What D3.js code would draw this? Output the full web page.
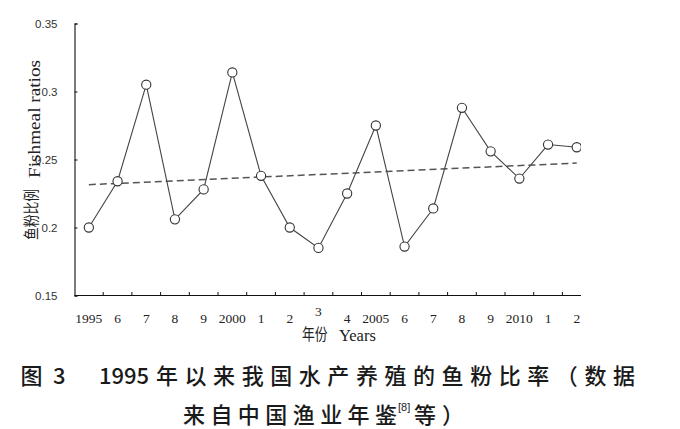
<!DOCTYPE html>
<html>
<head>
<meta charset="utf-8">
<script src="https://cdn.jsdelivr.net/npm/d3@7"></script>
<style>
  html, body { margin: 0; padding: 0; background: #fff; }
  svg { display: block; }
</style>
</head>
<body>
<svg id="chart" width="680" height="429"></svg>
<script>
// ---- data ----
const years = [1995, 1996, 1997, 1998, 1999, 2000, 2001, 2002, 2003, 2004, 2005, 2006, 2007, 2008, 2009, 2010, 2011, 2012];
const ratios = [0.200, 0.234, 0.305, 0.206, 0.228, 0.314, 0.238, 0.200, 0.185, 0.225, 0.275, 0.186, 0.214, 0.288, 0.256, 0.236, 0.261, 0.259];
const xTickLabels = ["1995", "6", "7", "8", "9", "2000", "1", "2", "3", "4", "2005", "6", "7", "8", "9", "2010", "1", "2"];
const yTicks = [0.15, 0.2, 0.25, 0.3, 0.35];
const yTickLabels = ["0.15", "0.2", "0.25", "0.3", "0.35"];
const yTitleZh = "鱼粉比例";
const yTitleEn = "Fishmeal ratios";
const xTitleZh = "年份";
const xTitleEn = "Years";
const captionLine1 = ["图", "3", "1995", "年以来我国水产养殖的鱼粉比率（数据"];
const captionLine2 = ["来自中国渔业年鉴", "[8]", "等）"];

// ---- layout ----
const svg = d3.select("#chart");
svg.append("rect").attr("width", 680).attr("height", 429).attr("fill", "#fff");

const plotLeft = 74.5, plotTop = 23.5, plotBottom = 295.5, bandW = 28.7, clipRight = 581;
const x = d3.scaleBand().domain(years).range([plotLeft, plotLeft + years.length * bandW]).padding(0);
const y = d3.scaleLinear().domain([0.15, 0.35]).range([plotBottom, plotTop]);
const cx = d => x(d) + x.bandwidth() / 2;

svg.append("clipPath").attr("id", "plotclip")
  .append("rect").attr("x", 0).attr("y", 0).attr("width", clipRight).attr("height", 429);

const data = years.map((yr, i) => ({ year: yr, v: ratios[i], label: xTickLabels[i] }));

// ---- y axis ----
const yAxis = d3.axisLeft(y).tickValues(yTicks).tickSize(-3).tickPadding(17)
  .tickFormat((d, i) => yTickLabels[i]);
const gy = svg.append("g").attr("transform", `translate(${plotLeft},0)`).call(yAxis);
gy.select(".domain").attr("stroke", "#111").attr("stroke-width", 1.1);
gy.selectAll(".tick line").attr("stroke", "#111");
gy.selectAll(".tick text").attr("font-family", "Liberation Sans, Arial, sans-serif")
  .attr("font-size", 11.5).attr("fill", "#333");

// ---- x axis ----
const gx = svg.append("g").attr("clip-path", "url(#plotclip)");
gx.append("line").attr("x1", plotLeft).attr("x2", clipRight).attr("y1", plotBottom).attr("y2", plotBottom)
  .attr("stroke", "#111").attr("stroke-width", 1.1);
gx.selectAll("line.tk").data(years.slice(1)).join("line").attr("class", "tk")
  .attr("x1", d => x(d)).attr("x2", d => x(d)).attr("y1", plotBottom).attr("y2", plotBottom - 3.5)
  .attr("stroke", "#111");

const xAxis = d3.axisBottom(x).tickSize(0).tickPadding(18).tickFormat((d, i) => xTickLabels[i]);
const gxl = svg.append("g").attr("transform", `translate(0,${plotBottom})`).call(xAxis);
gxl.select(".domain").remove();
gxl.selectAll(".tick text").attr("font-family", "Liberation Serif, Times New Roman, serif")
  .attr("font-size", 13.5).attr("fill", "#222")
  .attr("y", (d) => d === 2003 ? 11 : 18);

// axis titles
svg.append("text").attr("transform", "translate(302,340) scale(0.8,1)")
  .attr("font-family", "Noto Sans CJK SC").attr("font-size", 16).attr("fill", "#222").text(xTitleZh);
svg.append("text").attr("x", 339).attr("y", 341)
  .attr("font-family", "Liberation Serif, serif").attr("font-size", 16.5).attr("fill", "#222").text(xTitleEn);

svg.append("text").attr("transform", "translate(36.5,240) rotate(-90) scale(0.8,1)")
  .attr("font-family", "Noto Sans CJK SC").attr("font-size", 16).attr("fill", "#222").text(yTitleZh);
svg.append("text").attr("transform", "translate(40,178) rotate(-90)")
  .attr("font-family", "Liberation Serif, serif").attr("font-size", 16.5).attr("fill", "#222")
  .attr("textLength", 118).attr("lengthAdjust", "spacingAndGlyphs").text(yTitleEn);

// ---- plot ----
const plot = svg.append("g").attr("clip-path", "url(#plotclip)");

// linear trend (least squares fit of the series)
const n = ratios.length;
const idx = d3.range(n);
const mx = d3.mean(idx), my = d3.mean(ratios);
const slope = d3.sum(idx, i => (i - mx) * (ratios[i] - my)) / d3.sum(idx, i => (i - mx) ** 2);
const icpt = my - slope * mx;
plot.append("line")
  .attr("x1", cx(years[0])).attr("y1", y(icpt))
  .attr("x2", cx(years[n - 1])).attr("y2", y(icpt + slope * (n - 1)))
  .attr("stroke", "#555").attr("stroke-width", 1.5).attr("stroke-dasharray", "7,4");

plot.append("path").datum(data)
  .attr("d", d3.line().x(d => cx(d.year)).y(d => y(d.v)))
  .attr("fill", "none").attr("stroke", "#444").attr("stroke-width", 1.1);

plot.selectAll("circle").data(data).join("circle")
  .attr("cx", d => cx(d.year)).attr("cy", d => y(d.v)).attr("r", 4.6)
  .attr("fill", "#fff").attr("stroke", "#333").attr("stroke-width", 1.1);

// ---- caption ----
const capFont = "Noto Sans CJK SC";
const cap = svg.append("g").attr("fill", "#1a1a1a").attr("font-family", capFont).attr("font-weight", 500).attr("font-size", 22);
cap.append("text").attr("x", 20.5).attr("y", 383.5).text(captionLine1[0]);
cap.append("text").attr("x", 53).attr("y", 383.5).text(captionLine1[1]);
cap.append("text").attr("x", 99).attr("y", 383.5).attr("textLength", 50).attr("lengthAdjust", "spacing").text(captionLine1[2]);
cap.append("text").attr("x", 156).attr("y", 383.5).attr("textLength", 479).attr("lengthAdjust", "spacing").text(captionLine1[3]);

cap.append("text").attr("x", 183).attr("y", 423).attr("textLength", 214).attr("lengthAdjust", "spacing").text(captionLine2[0]);
cap.append("text").attr("x", 398).attr("y", 411).attr("font-size", 11).attr("font-weight", "normal").attr("font-family", "Liberation Sans, Arial, sans-serif").text(captionLine2[1]);
cap.append("text").attr("x", 414).attr("y", 423).attr("textLength", 50).attr("lengthAdjust", "spacing").text(captionLine2[2]);
</script>
</body>
</html>
